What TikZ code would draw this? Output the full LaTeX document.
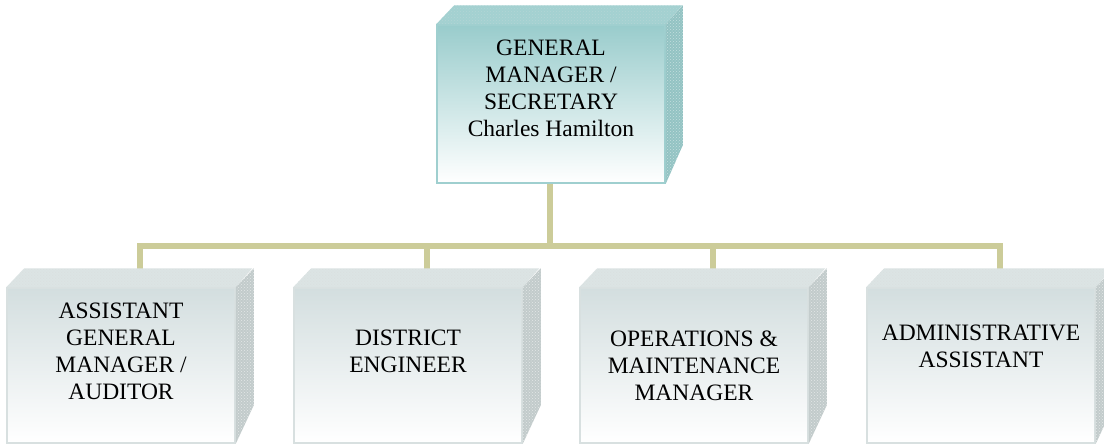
\documentclass[tikz,border=0pt]{standalone}
\usepackage{fontspec}
\setmainfont{Liberation Serif}
\usetikzlibrary{patterns}
\definecolor{linec}{HTML}{CCCC99}
\definecolor{tealtop}{HTML}{99CCCC}
\definecolor{tealface}{HTML}{A3D1D1}
\definecolor{tealside}{HTML}{93C3C3}
\definecolor{tealedge}{HTML}{9FCFCF}
\definecolor{graytop}{HTML}{D3DEDF}
\definecolor{grayface}{HTML}{DCE4E4}
\definecolor{grayside}{HTML}{C2CBCB}
\definecolor{grayedge}{HTML}{D8E0E0}
\tikzset{
  conn/.style={draw=linec, line width=6pt},
  tealfront/.style={rectangle, draw=tealedge, line width=1.5pt, top color=tealtop, bottom color=white, minimum width=228pt, minimum height=158pt, inner sep=0pt},
  grayfront/.style={rectangle, draw=grayedge, line width=1.5pt, top color=graytop, bottom color=white, minimum width=228pt, minimum height=155pt, inner sep=0pt},
  lbl/.style={align=center, font=\fontsize{23.5}{27}\selectfont, inner sep=0pt, text=black},
}
\begin{document}
\begin{tikzpicture}[x=1pt,y=-1pt]
\useasboundingbox (0,0) rectangle (1104,445);
\fill[white] (0,0) rectangle (1104,445);
% coordinates of the box tops (back edge centres)
\coordinate (bus) at (550,246);
\coordinate (t1) at (140,269);
\coordinate (t2) at (427,269);
\coordinate (t3) at (713,269);
\coordinate (t4) at (1000,269);
\coordinate (gmb) at (550,183);
% connectors
\draw[conn] (gmb) -- (bus);
\draw[conn] (t1) |- (bus) -| (t4);
\draw[conn] (bus) -| (t2);
\draw[conn] (bus) -| (t3);
% top box
\node[tealfront] (gm) at (551,104) {};
\fill[tealface] (gm.north west) -- ++(18,-19) -- ++(228,0) -- (gm.north east) -- cycle;
\fill[pattern=crosshatch dots, pattern color=tealside!70!white] (gm.north west) -- ++(18,-19) -- ++(228,0) -- (gm.north east) -- cycle;
\fill[tealside] (gm.north east) -- ++(17,-19) -- ++(0,140) -- (gm.south east) -- cycle;
\fill[pattern=crosshatch dots, pattern color=tealside!55!white] (gm.north east) -- ++(17,-19) -- ++(0,140) -- (gm.south east) -- cycle;
\node[lbl] (gmt) at (551,88) {GENERAL\\MANAGER /\\SECRETARY\\Charles Hamilton};
% bottom boxes
\foreach \i/\cx in {1/121, 2/408, 3/694, 4/981}{
  \node[grayfront] (b\i) at (\cx,365.5) {};
  \fill[grayface] (b\i.north west) -- ++(18,-19) -- ++(228,0) -- (b\i.north east) -- cycle;
  \fill[pattern=crosshatch dots, pattern color=grayside!60!white] (b\i.north west) -- ++(18,-19) -- ++(228,0) -- (b\i.north east) -- cycle;
  \fill[grayside] (b\i.north east) -- ++(18,-19) -- ++(0,137) -- (b\i.south east) -- cycle;
  \fill[pattern=crosshatch dots, pattern color=grayside!45!white] (b\i.north east) -- ++(18,-19) -- ++(0,137) -- (b\i.south east) -- cycle;
}
\node[lbl] (l1) at (121,351.5) {ASSISTANT\\GENERAL\\MANAGER /\\AUDITOR};
\node[lbl] (l2) at (408,351.5) {DISTRICT\\ENGINEER};
\node[lbl] (l3) at (694,365.5) {OPERATIONS \&\\MAINTENANCE\\MANAGER};
\node[lbl] (l4) at (981,346) {ADMINISTRATIVE\\ASSISTANT};
\end{tikzpicture}
\end{document}
